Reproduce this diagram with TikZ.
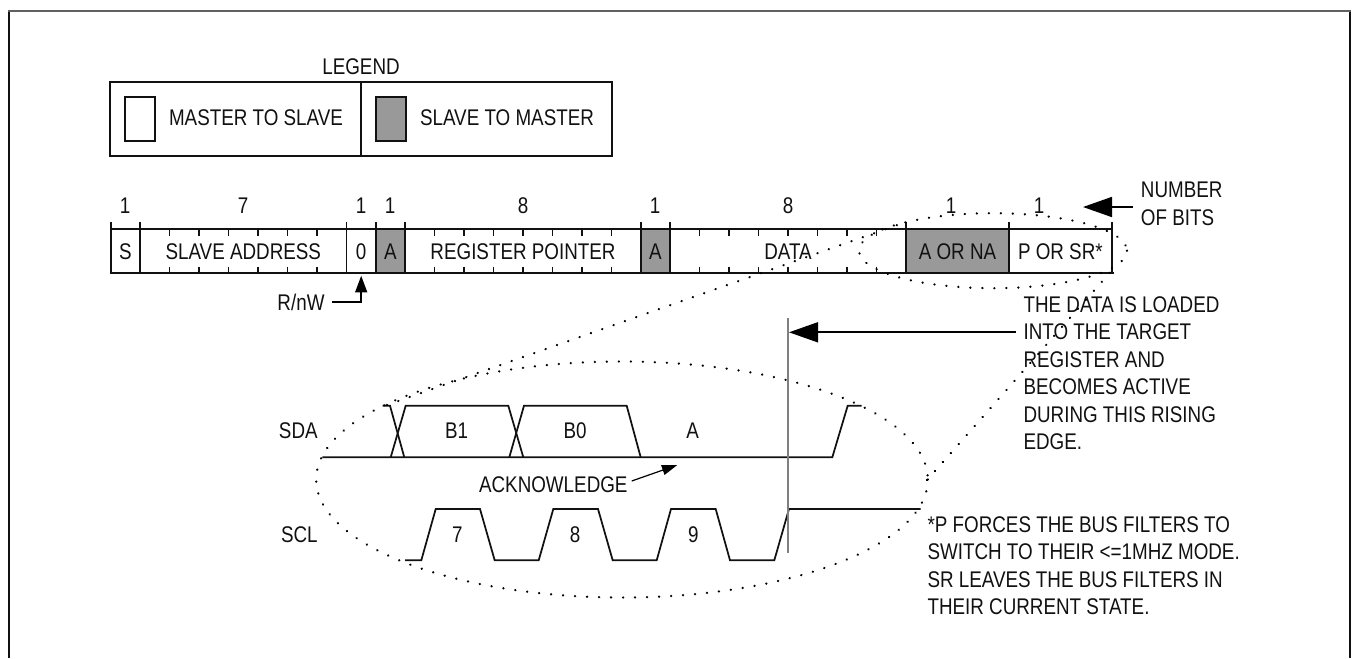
\documentclass[tikz,border=0pt]{standalone}
\usepackage{fontspec}
\setmainfont[FakeStretch=0.83]{Liberation Sans}
\usetikzlibrary{arrows.meta}
\definecolor{slavegray}{HTML}{999999}
\definecolor{inkdark}{HTML}{111111}
\newcommand{\bitcell}[5]{\node[cell,#4,minimum width={(#3-#2)*0.75pt}] (#1) at ({(#2+#3)/2},251.3) {#5};}
\tikzset{
  lbl/.style={inner sep=0pt,font=\fontsize{17}{20.6}\selectfont,text=inkdark},
  block/.style={lbl,align=left,anchor=north west},
  cell/.style={lbl,draw=inkdark,line width=1.3pt,minimum height=33pt},
  shaded/.style={fill=slavegray},
  plain/.style={fill=white},
  swatch/.style={draw=inkdark,line width=1.3pt,minimum width=22.5pt,minimum height=33pt,inner sep=0pt},
  tick/.style={draw=inkdark,line width=1.3pt},
  wave/.style={draw=inkdark,line width=1.3pt,line join=miter},
  dots/.style={draw=black,line width=1.9pt,line cap=round,dash pattern=on 0.01pt off 9pt},
  bigarrow/.style={draw=black,line width=1.3pt,-{Triangle[length=21.75pt,width=15pt]}},
  midarrow/.style={draw=black,line width=1.3pt,-{Triangle[length=12.5pt,width=9pt]}},
  thinarrow/.style={draw=black,line width=0.9pt,-{Triangle[length=11.5pt,width=7.5pt]}}
}
\begin{document}
\begin{tikzpicture}[x=0.75pt,y=-0.75pt]
\useasboundingbox (0,0) rectangle (1353,658);
% frame, open at the bottom
\draw[draw=inkdark,line width=1.4pt] (8.7,658) -- (8.7,10.7);
\draw[draw=inkdark,line width=1.4pt] (1350,10.7) -- (1350,658);
\draw[draw=black!62,line width=1.7pt] (8,10.7) -- (1351,10.7);
% legend
\node[lbl] (legendtitle) at (361,67) {LEGEND};
\node[draw=inkdark,line width=1.3pt,minimum width={251*0.75pt},minimum height={73.7*0.75pt},inner sep=0pt] (legendleft) at (235.7,118.9) {};
\node[draw=inkdark,line width=1.3pt,minimum width={251*0.75pt},minimum height={73.7*0.75pt},inner sep=0pt] (legendright) at (486.7,118.9) {};
\node[swatch] (swatchm) at (140,118.7) {};
\node[swatch,shaded] (swatchs) at (391,118.7) {};
\node[lbl] (mastertext) at (256,117.3) {MASTER TO SLAVE};
\node[lbl] (slavetext) at (507,117.3) {SLAVE TO MASTER};
% bit counts
\foreach \n/\x/\t in {c1/125/1,c2/243/7,c3/361/1,c4/390/1,c5/523/8,c6/655/1,c7/788/8,c8/951/1,c9/1039/1}
  \node[lbl] (\n) at (\x,206) {\t};
% frame cells
\bitcell{cs}{110.7}{140}{plain}{S}
\bitcell{caddr}{140}{346.6}{plain}{SLAVE ADDRESS}
\bitcell{czero}{346.6}{375.8}{plain}{0}
\bitcell{cack}{375.8}{405}{shaded}{A}
\bitcell{creg}{405}{641}{plain}{REGISTER POINTER}
\bitcell{cackb}{641}{670}{shaded}{A}
\bitcell{cdata}{670}{906}{plain}{DATA}
\bitcell{cana}{906}{1009}{shaded}{A OR NA}
\bitcell{cpsr}{1009}{1111.7}{plain}{P OR SR*}
% ticks above the frame
\foreach \x in {110.7,140,346.6,375.8,405,641,670,906,1009,1111.7}
  \draw[tick] (\x,222) -- (\x,229.3);
\draw[tick] (1111,273.3) -- (1113.5,273.3);
% inner ticks
\foreach \x in {169.5,199,228.5,258,287.5,317,
                434.5,464,493.5,523,552.5,582,611.5,
                699.5,729,758.5,788,817.5,847,876.5}{
  \draw[tick] (\x,229.3) -- (\x,236);
  \draw[tick] (\x,266.7) -- (\x,273.3);
}
% R/nW
\node[lbl] (rnw) at (301,302.3) {R/nW};
\draw[midarrow,shorten <=5.5pt,shorten >=1.2pt] (rnw.east) -| (czero.south);
% number of bits
\node[block] (numbits) at (1140.7,182) {NUMBER\\OF BITS};
\coordinate (numtip) at (1083,207);
\draw[bigarrow,shorten <=5.8pt] (numbits.west |- numtip) -- (numtip);
% data note
\node[block] (datanote) at (1023.3,296.4) {THE DATA IS LOADED\\INTO THE TARGET\\REGISTER AND\\BECOMES ACTIVE\\DURING THIS RISING\\EDGE.};
\coordinate (edgetip) at (789,332.3);
\draw[bigarrow,shorten <=5.5pt] (datanote.west |- edgetip) -- (edgetip);
% footnote
\node[block] (footnote) at (927.3,516) {*P FORCES THE BUS FILTERS TO\\SWITCH TO THEIR <=1MHZ MODE.\\SR LEAVES THE BUS FILTERS IN\\THEIR CURRENT STATE.};
% timing signals
\node[lbl] (sdalabel) at (298.3,430.7) {SDA};
\node[lbl] (scllabel) at (299.3,534.3) {SCL};
\node[lbl] (bb1) at (456.7,431) {B1};
\node[lbl] (bb0) at (575,431) {B0};
\node[lbl] (bba) at (692.7,431) {A};
\node[lbl] (n7) at (457.3,534.3) {7};
\node[lbl] (n8) at (575,534.3) {8};
\node[lbl] (n9) at (693.3,534.3) {9};
\node[lbl] (ack) at (553.3,485) {ACKNOWLEDGE};
\draw[wave] (322.3,457.3) -- (832.3,457.3) -- (847.7,405.7) -- (861.7,405.7);
\draw[wave] (382.7,405.7) -- (390,405.7) -- (404.3,457.3);
\draw[wave] (390.7,457.3) -- (405.7,405.7) -- (508.3,405.7) -- (523.3,457.3);
\draw[wave] (509.3,457.3) -- (524,405.7) -- (626.7,405.7) -- (640.7,457.3);
\draw[wave] (405,560.3) -- (421.3,560.3) -- (435.7,509) -- (480,509) -- (494.7,560.3) -- (538.7,560.3) -- (553.3,509) -- (598,509) -- (612.7,560.3) -- (656.7,560.3) -- (671,509) -- (715.7,509) -- (730,560.3) -- (774.3,560.3) -- (789,509) -- (920.7,509);
\draw[draw=black!50,line width=2.2pt] (788,318) -- (788,553);
\coordinate (ackstart) at (631.7,481);
\coordinate (acktip) at (677.3,465);
\draw[thinarrow] (ackstart) -- (acktip);
% dotted zoom ellipses
\draw[dots] (622,479.5) ellipse [x radius=305.8,y radius=118];
\draw[dots] (993,250.7) ellipse [x radius=134,y radius=37.5];
\coordinate (zoomat) at (387,405);
\coordinate (zoomau) at (906,222);
\coordinate (zoomav) at (927,480);
\coordinate (zoomaw) at (1114,268);
\draw[dots] (zoomat) -- (zoomau);
\draw[dots] (zoomav) -- (zoomaw);
\end{tikzpicture}
\end{document}
